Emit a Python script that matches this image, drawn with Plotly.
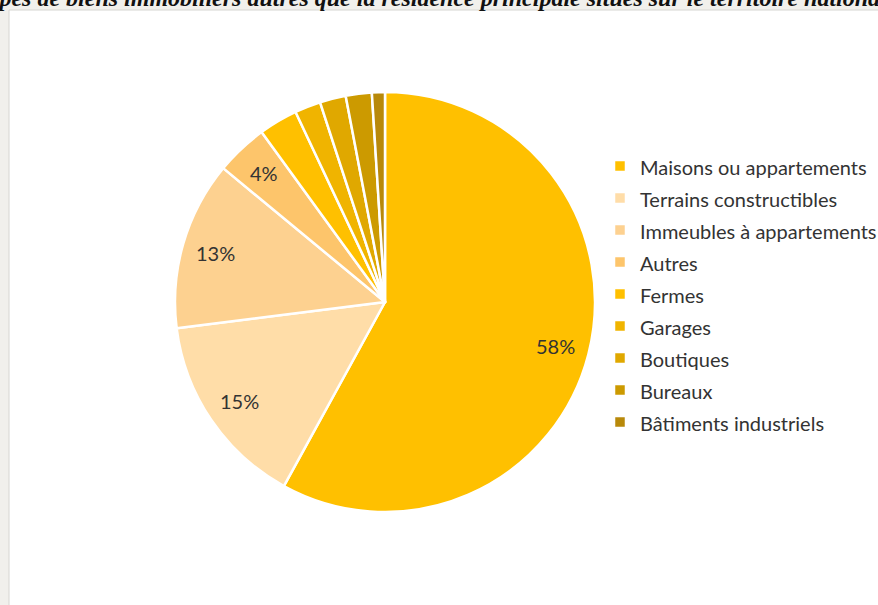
import math
import plotly.graph_objects as go

labels = ["Maisons ou appartements", "Terrains constructibles", "Immeubles à appartements",
          "Autres", "Fermes", "Garages", "Boutiques", "Bureaux", "Bâtiments industriels"]
values = [58, 15, 13, 4, 3, 2, 2, 2, 1]
colors = ["#FFC000", "#FFDDA8", "#FDD190", "#FDC56B", "#FFC000",
          "#F0B400", "#E0A800", "#CC9A00", "#B8890A"]
shown = [True, True, True, True, False, False, False, False, False]

title_text = "Types de biens immobiliers autres que la résidence principale situés sur le territoire national"

W, H = 878, 605
cx, cy, R = 385, 302, 210
label_r = 0.84 * R

legend_labels = ["<span style='font-size:20px'>%s</span>" % l for l in labels]

fig = go.Figure(go.Pie(
    labels=legend_labels,
    values=values,
    sort=False,
    direction="clockwise",
    rotation=0,
    marker=dict(colors=colors, line=dict(color="white", width=2.5)),
    textinfo="none",
    hoverinfo="label+percent",
    domain=dict(x=[(cx - R) / W, (cx + R) / W], y=[1 - (cy + R) / H, 1 - (cy - R) / H]),
))

# percentage labels placed near the outer part of each slice (derived from the values)
total = sum(values)
annotations = []
cum = 0
for v, s in zip(values, shown):
    mid = (cum + v / 2) / total * 2 * math.pi
    cum += v
    if not s:
        continue
    px = cx + label_r * math.sin(mid)
    py = cy - label_r * math.cos(mid)
    annotations.append(dict(
        text="%d%%" % round(100 * v / total),
        xref="paper", yref="paper", x=px / W, y=1 - py / H,
        xanchor="center", yanchor="middle", showarrow=False,
        font=dict(family="Lato", size=20, color="#333333"),
    ))

annotations.append(dict(
    text="<b><i>%s</i></b>" % title_text,
    xref="paper", yref="paper",
    x=-27 / W, xanchor="left",
    y=1 - 13 / H, yanchor="bottom",
    showarrow=False,
    font=dict(family="Liberation Serif", size=24, color="#111111"),
))

fig.update_layout(
    width=W, height=H,
    margin=dict(l=0, r=0, t=0, b=0, autoexpand=False),
    paper_bgcolor="#F1F0EC",
    plot_bgcolor="#F1F0EC",
    showlegend=True,
    legend=dict(
        x=600 / W, xanchor="left",
        y=1 - 145 / H, yanchor="top",
        font=dict(family="Lato", size=22.3, color="#333333"),
        bgcolor="rgba(0,0,0,0)",
        traceorder="normal",
    ),
    shapes=[dict(type="rect", xref="paper", yref="paper", layer="below",
                 x0=9 / W, x1=1.01, y0=-0.01, y1=1 - 10 / H,
                 fillcolor="white", line=dict(color="#D6D6D2", width=1))],
    annotations=annotations,
)

fig.write_html("out.html")
